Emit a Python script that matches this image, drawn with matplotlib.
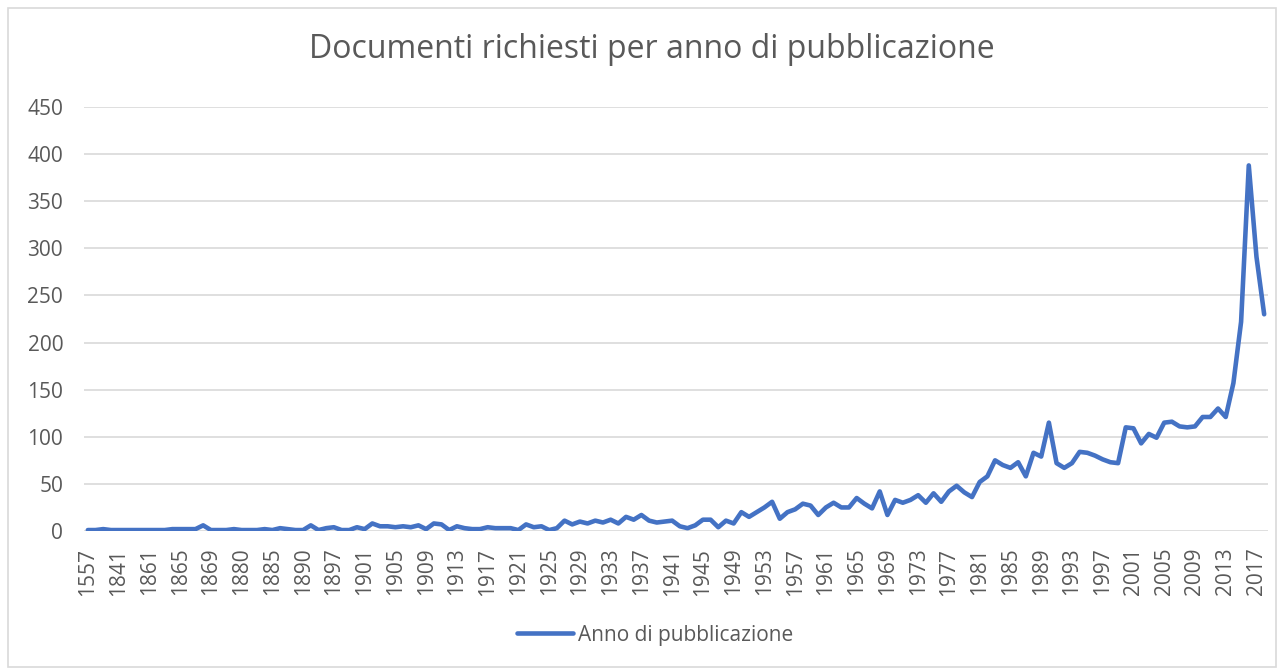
import matplotlib
matplotlib.use("Agg")
import matplotlib.pyplot as plt
from matplotlib.patches import Rectangle

years = (["1557", "1620", "1758", "1820", "1841", "1845", "1850", "1856",
          "1861", "1862", "1863", "1864", "1865", "1866", "1867", "1868",
          "1869", "1872", "1875", "1878", "1880", "1881", "1882", "1884",
          "1885", "1886", "1887", "1889", "1890", "1892", "1894", "1895",
          "1897", "1898", "1899", "1900"]
         + [str(y) for y in range(1901, 2019)])

early_values = [1, 1, 2, 1, 1, 1, 1, 1, 1, 1, 1, 2, 2, 2, 2, 6,
                1, 1, 1, 2, 1, 1, 1, 2, 1, 3, 2, 1, 1, 6, 1, 3,
                4, 1, 1, 4]
values_1901_1940 = [2, 8, 5, 5, 4, 5, 4, 6, 2, 8, 7, 1, 5, 3, 2, 2, 4, 3, 3, 3,
                    1, 7, 4, 5, 1, 3, 11, 7, 10, 8, 11, 9, 12, 8, 15, 12, 17, 11, 9, 10]
values_1941_1980 = [11, 5, 3, 6, 12, 12, 4, 11, 8, 20, 15, 20, 25, 31, 13, 20, 23, 29, 27, 17,
                    25, 30, 25, 25, 35, 29, 24, 42, 17, 33, 30, 33, 38, 30, 40, 31, 42, 48, 41, 36]
values_1981_2018 = [52, 58, 75, 70, 67, 73, 58, 83, 79, 115, 72, 67, 72, 84, 83, 80, 76, 73, 72,
                    110, 109, 93, 103, 99, 115, 116, 111, 110, 111, 121, 121, 130, 121, 157,
                    222, 388, 291, 230]
values = early_values + values_1901_1940 + values_1941_1980 + values_1981_2018

title = "Documenti richiesti per anno di pubblicazione"
series_name = "Anno di pubblicazione"
yticks = list(range(0, 451, 50))

plt.rcParams['font.family'] = ['Open Sans', 'DejaVu Sans']
text_color = "#595959"
grid_color = "#D9D9D9"
line_color = "#4472C4"

W, H = 1280, 671
fig = plt.figure(figsize=(W / 100, H / 100), dpi=100)
ax = fig.add_axes([84 / W, 1 - 531 / H, (1268 - 84) / W, (531 - 107) / H])

x = list(range(len(values)))
ax.plot(x, values, color=line_color, lw=3.3, solid_joinstyle='round',
        solid_capstyle='round', label=series_name, zorder=3)

ax.set_xlim(-0.5, len(values) - 0.5)
ax.set_ylim(0, 450)
ax.set_yticks(yticks)
ax.set_yticklabels([str(v) for v in yticks])
ax.set_xticks(x[::4])
ax.set_xticklabels(years[::4], rotation=90)
ax.tick_params(axis='both', length=0, labelsize=15, labelcolor=text_color)
ax.tick_params(axis='y', pad=15)
ax.tick_params(axis='x', pad=12)
for s in ax.spines.values():
    s.set_visible(False)
ax.grid(axis='y', color=grid_color, lw=1.2)
ax.set_axisbelow(True)

fig.text(652 / W, 1 - 50 / H, title, ha='center', va='center',
         fontsize=23, color=text_color)

fig.legend(loc='center', bbox_to_anchor=(655 / W, 1 - 635 / H), frameon=False,
           handlelength=2.7, handletextpad=0.2, fontsize=15, labelcolor=text_color)

fig.patches.append(Rectangle((8 / W, 4 / H), (1276 - 8) / W, (663 - 4) / H,
                             transform=fig.transFigure, fill=False,
                             ec=grid_color, lw=1.2))

fig.savefig("out.png", dpi=100)
